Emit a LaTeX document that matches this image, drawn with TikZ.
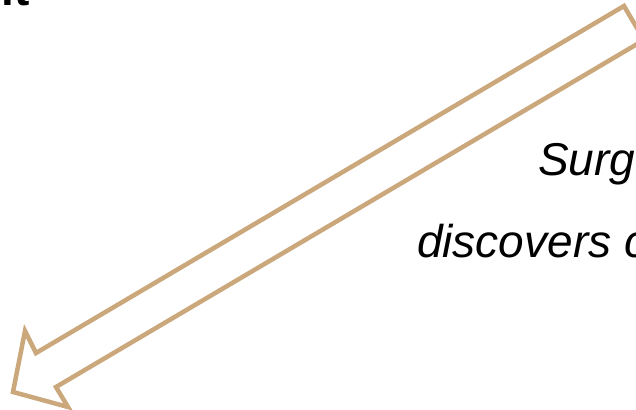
\documentclass[tikz,border=0pt]{standalone}
\usepackage{fontspec}
\setmainfont{Liberation Sans}
\usetikzlibrary{positioning}
\definecolor{tan}{HTML}{CBA77C}
\tikzset{
  outline/.style={draw=tan,line width=4.5pt,line join=miter,fill=white},
  caption/.style={font=\fontsize{46}{55}\selectfont\itshape,inner sep=0pt,anchor=base west},
  heading/.style={font=\fontsize{46}{55}\selectfont\bfseries,inner sep=0pt,anchor=base east}
}
\begin{document}
\begin{tikzpicture}[x=1pt,y=-1pt]
\useasboundingbox (0,0) rectangle (636,409);
\clip (0,0) rectangle (636,409);
\node[heading] (title) at (30,6) {it};
% hollow arrow, cut by the frame
\draw[outline] (624,6) -- (36,353) -- (25,331) -- (13,392) -- (68,407) -- (56,387) -- (644,40) -- cycle;
\node[caption] (line1) at (538,175) {Surg};
\node[caption] (line2) at (417,257) {discovers c};
\end{tikzpicture}
\end{document}
